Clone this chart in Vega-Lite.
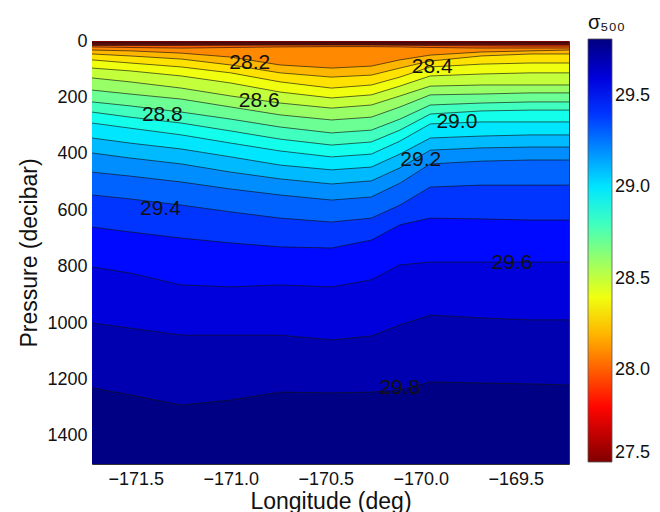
{
  "$schema": "https://vega.github.io/schema/vega-lite/v6.json",
  "autosize": {"type": "none"},
  "padding": {"left": 92, "top": 41, "right": 91, "bottom": 48},
  "width": 477,
  "height": 423,
  "background": "white",
  "config": {
    "font": "Liberation Sans",
    "view": {"stroke": "#333333", "strokeWidth": 1},
    "axis": {"grid": false, "ticks": false, "tickSize": 0, "domain": false, "labelFontSize": 18, "labelColor": "#111111", "titleFontSize": 23, "titleFontWeight": "normal", "titleColor": "#111111"}
  },
  "datasets": {
    "contours": [
      {"lon": -171.73, "lev": 27.5, "p": 0}, {"lon": -171.53, "lev": 27.5, "p": 0}, {"lon": -171.26, "lev": 27.5, "p": 0}, {"lon": -171.0, "lev": 27.5, "p": 0}, {"lon": -170.74, "lev": 27.5, "p": 0}, {"lon": -170.47, "lev": 27.5, "p": 0}, {"lon": -170.26, "lev": 27.5, "p": 0}, {"lon": -170.11, "lev": 27.5, "p": 0}, {"lon": -169.95, "lev": 27.5, "p": 0}, {"lon": -169.68, "lev": 27.5, "p": 0}, {"lon": -169.42, "lev": 27.5, "p": 0}, {"lon": -169.22, "lev": 27.5, "p": 0},
      {"lon": -171.73, "lev": 27.6, "p": 5}, {"lon": -171.53, "lev": 27.6, "p": 5}, {"lon": -171.26, "lev": 27.6, "p": 5}, {"lon": -171.0, "lev": 27.6, "p": 5}, {"lon": -170.74, "lev": 27.6, "p": 5}, {"lon": -170.47, "lev": 27.6, "p": 5}, {"lon": -170.26, "lev": 27.6, "p": 5}, {"lon": -170.11, "lev": 27.6, "p": 5}, {"lon": -169.95, "lev": 27.6, "p": 5}, {"lon": -169.68, "lev": 27.6, "p": 5}, {"lon": -169.42, "lev": 27.6, "p": 5}, {"lon": -169.22, "lev": 27.6, "p": 5},
      {"lon": -171.73, "lev": 27.7, "p": 8}, {"lon": -171.53, "lev": 27.7, "p": 8}, {"lon": -171.26, "lev": 27.7, "p": 8}, {"lon": -171.0, "lev": 27.7, "p": 8}, {"lon": -170.74, "lev": 27.7, "p": 8}, {"lon": -170.47, "lev": 27.7, "p": 8}, {"lon": -170.26, "lev": 27.7, "p": 8}, {"lon": -170.11, "lev": 27.7, "p": 8}, {"lon": -169.95, "lev": 27.7, "p": 8}, {"lon": -169.68, "lev": 27.7, "p": 8}, {"lon": -169.42, "lev": 27.7, "p": 8}, {"lon": -169.22, "lev": 27.7, "p": 8},
      {"lon": -171.73, "lev": 27.8, "p": 11}, {"lon": -171.53, "lev": 27.8, "p": 11}, {"lon": -171.26, "lev": 27.8, "p": 11}, {"lon": -171.0, "lev": 27.8, "p": 11}, {"lon": -170.74, "lev": 27.8, "p": 11}, {"lon": -170.47, "lev": 27.8, "p": 11}, {"lon": -170.26, "lev": 27.8, "p": 11}, {"lon": -170.11, "lev": 27.8, "p": 11}, {"lon": -169.95, "lev": 27.8, "p": 11}, {"lon": -169.68, "lev": 27.8, "p": 11}, {"lon": -169.42, "lev": 27.8, "p": 11}, {"lon": -169.22, "lev": 27.8, "p": 11},
      {"lon": -171.73, "lev": 27.9, "p": 13}, {"lon": -171.53, "lev": 27.9, "p": 13}, {"lon": -171.26, "lev": 27.9, "p": 13}, {"lon": -171.0, "lev": 27.9, "p": 13}, {"lon": -170.74, "lev": 27.9, "p": 13}, {"lon": -170.47, "lev": 27.9, "p": 13}, {"lon": -170.26, "lev": 27.9, "p": 13}, {"lon": -170.11, "lev": 27.9, "p": 13}, {"lon": -169.95, "lev": 27.9, "p": 13}, {"lon": -169.68, "lev": 27.9, "p": 13}, {"lon": -169.42, "lev": 27.9, "p": 13}, {"lon": -169.22, "lev": 27.9, "p": 13},
      {"lon": -171.73, "lev": 28.0, "p": 16}, {"lon": -171.53, "lev": 28.0, "p": 16}, {"lon": -171.26, "lev": 28.0, "p": 16}, {"lon": -171.0, "lev": 28.0, "p": 15}, {"lon": -170.74, "lev": 28.0, "p": 14}, {"lon": -170.47, "lev": 28.0, "p": 14}, {"lon": -170.26, "lev": 28.0, "p": 14}, {"lon": -170.11, "lev": 28.0, "p": 15}, {"lon": -169.95, "lev": 28.0, "p": 16}, {"lon": -169.68, "lev": 28.0, "p": 17}, {"lon": -169.42, "lev": 28.0, "p": 18}, {"lon": -169.22, "lev": 28.0, "p": 18},
      {"lon": -171.73, "lev": 28.1, "p": 21}, {"lon": -171.53, "lev": 28.1, "p": 23}, {"lon": -171.26, "lev": 28.1, "p": 25}, {"lon": -171.0, "lev": 28.1, "p": 23}, {"lon": -170.74, "lev": 28.1, "p": 21}, {"lon": -170.47, "lev": 28.1, "p": 20}, {"lon": -170.26, "lev": 28.1, "p": 20}, {"lon": -170.11, "lev": 28.1, "p": 21}, {"lon": -169.95, "lev": 28.1, "p": 23}, {"lon": -169.68, "lev": 28.1, "p": 25}, {"lon": -169.42, "lev": 28.1, "p": 25}, {"lon": -169.22, "lev": 28.1, "p": 25},
      {"lon": -171.73, "lev": 28.2, "p": 32}, {"lon": -171.53, "lev": 28.2, "p": 35}, {"lon": -171.26, "lev": 28.2, "p": 43}, {"lon": -171.0, "lev": 28.2, "p": 57}, {"lon": -170.74, "lev": 28.2, "p": 85}, {"lon": -170.47, "lev": 28.2, "p": 96}, {"lon": -170.26, "lev": 28.2, "p": 89}, {"lon": -170.11, "lev": 28.2, "p": 67}, {"lon": -169.95, "lev": 28.2, "p": 50}, {"lon": -169.68, "lev": 28.2, "p": 39}, {"lon": -169.42, "lev": 28.2, "p": 35}, {"lon": -169.22, "lev": 28.2, "p": 32},
      {"lon": -171.73, "lev": 28.3, "p": 46}, {"lon": -171.53, "lev": 28.3, "p": 53}, {"lon": -171.26, "lev": 28.3, "p": 64}, {"lon": -171.0, "lev": 28.3, "p": 85}, {"lon": -170.74, "lev": 28.3, "p": 113}, {"lon": -170.47, "lev": 28.3, "p": 128}, {"lon": -170.26, "lev": 28.3, "p": 121}, {"lon": -170.11, "lev": 28.3, "p": 96}, {"lon": -169.95, "lev": 28.3, "p": 71}, {"lon": -169.68, "lev": 28.3, "p": 53}, {"lon": -169.42, "lev": 28.3, "p": 46}, {"lon": -169.22, "lev": 28.3, "p": 46},
      {"lon": -171.73, "lev": 28.4, "p": 67}, {"lon": -171.53, "lev": 28.4, "p": 78}, {"lon": -171.26, "lev": 28.4, "p": 92}, {"lon": -171.0, "lev": 28.4, "p": 113}, {"lon": -170.74, "lev": 28.4, "p": 145}, {"lon": -170.47, "lev": 28.4, "p": 167}, {"lon": -170.26, "lev": 28.4, "p": 156}, {"lon": -170.11, "lev": 28.4, "p": 128}, {"lon": -169.95, "lev": 28.4, "p": 92}, {"lon": -169.68, "lev": 28.4, "p": 82}, {"lon": -169.42, "lev": 28.4, "p": 78}, {"lon": -169.22, "lev": 28.4, "p": 78},
      {"lon": -171.73, "lev": 28.5, "p": 96}, {"lon": -171.53, "lev": 28.5, "p": 106}, {"lon": -171.26, "lev": 28.5, "p": 124}, {"lon": -171.0, "lev": 28.5, "p": 149}, {"lon": -170.74, "lev": 28.5, "p": 181}, {"lon": -170.47, "lev": 28.5, "p": 202}, {"lon": -170.26, "lev": 28.5, "p": 191}, {"lon": -170.11, "lev": 28.5, "p": 160}, {"lon": -169.95, "lev": 28.5, "p": 124}, {"lon": -169.68, "lev": 28.5, "p": 117}, {"lon": -169.42, "lev": 28.5, "p": 113}, {"lon": -169.22, "lev": 28.5, "p": 113},
      {"lon": -171.73, "lev": 28.6, "p": 131}, {"lon": -171.53, "lev": 28.6, "p": 145}, {"lon": -171.26, "lev": 28.6, "p": 167}, {"lon": -171.0, "lev": 28.6, "p": 195}, {"lon": -170.74, "lev": 28.6, "p": 220}, {"lon": -170.47, "lev": 28.6, "p": 238}, {"lon": -170.26, "lev": 28.6, "p": 227}, {"lon": -170.11, "lev": 28.6, "p": 195}, {"lon": -169.95, "lev": 28.6, "p": 160}, {"lon": -169.68, "lev": 28.6, "p": 156}, {"lon": -169.42, "lev": 28.6, "p": 156}, {"lon": -169.22, "lev": 28.6, "p": 156},
      {"lon": -171.73, "lev": 28.7, "p": 174}, {"lon": -171.53, "lev": 28.7, "p": 188}, {"lon": -171.26, "lev": 28.7, "p": 206}, {"lon": -171.0, "lev": 28.7, "p": 234}, {"lon": -170.74, "lev": 28.7, "p": 262}, {"lon": -170.47, "lev": 28.7, "p": 280}, {"lon": -170.26, "lev": 28.7, "p": 270}, {"lon": -170.11, "lev": 28.7, "p": 234}, {"lon": -169.95, "lev": 28.7, "p": 191}, {"lon": -169.68, "lev": 28.7, "p": 188}, {"lon": -169.42, "lev": 28.7, "p": 184}, {"lon": -169.22, "lev": 28.7, "p": 184},
      {"lon": -171.73, "lev": 28.8, "p": 216}, {"lon": -171.53, "lev": 28.8, "p": 230}, {"lon": -171.26, "lev": 28.8, "p": 252}, {"lon": -171.0, "lev": 28.8, "p": 277}, {"lon": -170.74, "lev": 28.8, "p": 305}, {"lon": -170.47, "lev": 28.8, "p": 326}, {"lon": -170.26, "lev": 28.8, "p": 316}, {"lon": -170.11, "lev": 28.8, "p": 277}, {"lon": -169.95, "lev": 28.8, "p": 227}, {"lon": -169.68, "lev": 28.8, "p": 220}, {"lon": -169.42, "lev": 28.8, "p": 216}, {"lon": -169.22, "lev": 28.8, "p": 216},
      {"lon": -171.73, "lev": 28.9, "p": 252}, {"lon": -171.53, "lev": 28.9, "p": 270}, {"lon": -171.26, "lev": 28.9, "p": 291}, {"lon": -171.0, "lev": 28.9, "p": 319}, {"lon": -170.74, "lev": 28.9, "p": 348}, {"lon": -170.47, "lev": 28.9, "p": 369}, {"lon": -170.26, "lev": 28.9, "p": 358}, {"lon": -170.11, "lev": 28.9, "p": 316}, {"lon": -169.95, "lev": 28.9, "p": 259}, {"lon": -169.68, "lev": 28.9, "p": 248}, {"lon": -169.42, "lev": 28.9, "p": 245}, {"lon": -169.22, "lev": 28.9, "p": 245},
      {"lon": -171.73, "lev": 29.0, "p": 291}, {"lon": -171.53, "lev": 29.0, "p": 309}, {"lon": -171.26, "lev": 29.0, "p": 333}, {"lon": -171.0, "lev": 29.0, "p": 362}, {"lon": -170.74, "lev": 29.0, "p": 390}, {"lon": -170.47, "lev": 29.0, "p": 411}, {"lon": -170.26, "lev": 29.0, "p": 401}, {"lon": -170.11, "lev": 29.0, "p": 355}, {"lon": -169.95, "lev": 29.0, "p": 294}, {"lon": -169.68, "lev": 29.0, "p": 287}, {"lon": -169.42, "lev": 29.0, "p": 287}, {"lon": -169.22, "lev": 29.0, "p": 287},
      {"lon": -171.73, "lev": 29.1, "p": 344}, {"lon": -171.53, "lev": 29.1, "p": 362}, {"lon": -171.26, "lev": 29.1, "p": 383}, {"lon": -171.0, "lev": 29.1, "p": 411}, {"lon": -170.74, "lev": 29.1, "p": 440}, {"lon": -170.47, "lev": 29.1, "p": 457}, {"lon": -170.26, "lev": 29.1, "p": 447}, {"lon": -170.11, "lev": 29.1, "p": 401}, {"lon": -169.95, "lev": 29.1, "p": 344}, {"lon": -169.68, "lev": 29.1, "p": 337}, {"lon": -169.42, "lev": 29.1, "p": 333}, {"lon": -169.22, "lev": 29.1, "p": 333},
      {"lon": -171.73, "lev": 29.2, "p": 397}, {"lon": -171.53, "lev": 29.2, "p": 415}, {"lon": -171.26, "lev": 29.2, "p": 436}, {"lon": -171.0, "lev": 29.2, "p": 465}, {"lon": -170.74, "lev": 29.2, "p": 489}, {"lon": -170.47, "lev": 29.2, "p": 507}, {"lon": -170.26, "lev": 29.2, "p": 496}, {"lon": -170.11, "lev": 29.2, "p": 450}, {"lon": -169.95, "lev": 29.2, "p": 387}, {"lon": -169.68, "lev": 29.2, "p": 379}, {"lon": -169.42, "lev": 29.2, "p": 376}, {"lon": -169.22, "lev": 29.2, "p": 376},
      {"lon": -171.73, "lev": 29.3, "p": 465}, {"lon": -171.53, "lev": 29.3, "p": 479}, {"lon": -171.26, "lev": 29.3, "p": 500}, {"lon": -171.0, "lev": 29.3, "p": 525}, {"lon": -170.74, "lev": 29.3, "p": 546}, {"lon": -170.47, "lev": 29.3, "p": 564}, {"lon": -170.26, "lev": 29.3, "p": 553}, {"lon": -170.11, "lev": 29.3, "p": 504}, {"lon": -169.95, "lev": 29.3, "p": 436}, {"lon": -169.68, "lev": 29.3, "p": 426}, {"lon": -169.42, "lev": 29.3, "p": 422}, {"lon": -169.22, "lev": 29.3, "p": 422},
      {"lon": -171.73, "lev": 29.4, "p": 546}, {"lon": -171.53, "lev": 29.4, "p": 560}, {"lon": -171.26, "lev": 29.4, "p": 582}, {"lon": -171.0, "lev": 29.4, "p": 606}, {"lon": -170.74, "lev": 29.4, "p": 628}, {"lon": -170.47, "lev": 29.4, "p": 642}, {"lon": -170.26, "lev": 29.4, "p": 628}, {"lon": -170.11, "lev": 29.4, "p": 582}, {"lon": -169.95, "lev": 29.4, "p": 518}, {"lon": -169.68, "lev": 29.4, "p": 511}, {"lon": -169.42, "lev": 29.4, "p": 511}, {"lon": -169.22, "lev": 29.4, "p": 511},
      {"lon": -171.73, "lev": 29.5, "p": 660}, {"lon": -171.53, "lev": 29.5, "p": 677}, {"lon": -171.26, "lev": 29.5, "p": 699}, {"lon": -171.0, "lev": 29.5, "p": 716}, {"lon": -170.74, "lev": 29.5, "p": 730}, {"lon": -170.47, "lev": 29.5, "p": 734}, {"lon": -170.26, "lev": 29.5, "p": 706}, {"lon": -170.11, "lev": 29.5, "p": 652}, {"lon": -169.95, "lev": 29.5, "p": 628}, {"lon": -169.68, "lev": 29.5, "p": 631}, {"lon": -169.42, "lev": 29.5, "p": 635}, {"lon": -169.22, "lev": 29.5, "p": 635},
      {"lon": -171.73, "lev": 29.6, "p": 801}, {"lon": -171.53, "lev": 29.6, "p": 823}, {"lon": -171.26, "lev": 29.6, "p": 865}, {"lon": -171.0, "lev": 29.6, "p": 872}, {"lon": -170.74, "lev": 29.6, "p": 865}, {"lon": -170.47, "lev": 29.6, "p": 872}, {"lon": -170.26, "lev": 29.6, "p": 847}, {"lon": -170.11, "lev": 29.6, "p": 794}, {"lon": -169.95, "lev": 29.6, "p": 784}, {"lon": -169.68, "lev": 29.6, "p": 784}, {"lon": -169.42, "lev": 29.6, "p": 784}, {"lon": -169.22, "lev": 29.6, "p": 784},
      {"lon": -171.73, "lev": 29.7, "p": 1000}, {"lon": -171.53, "lev": 29.7, "p": 1018}, {"lon": -171.26, "lev": 29.7, "p": 1043}, {"lon": -171.0, "lev": 29.7, "p": 1043}, {"lon": -170.74, "lev": 29.7, "p": 1043}, {"lon": -170.47, "lev": 29.7, "p": 1060}, {"lon": -170.26, "lev": 29.7, "p": 1046}, {"lon": -170.11, "lev": 29.7, "p": 1007}, {"lon": -169.95, "lev": 29.7, "p": 972}, {"lon": -169.68, "lev": 29.7, "p": 982}, {"lon": -169.42, "lev": 29.7, "p": 989}, {"lon": -169.22, "lev": 29.7, "p": 989},
      {"lon": -171.73, "lev": 29.8, "p": 1230}, {"lon": -171.53, "lev": 29.8, "p": 1255}, {"lon": -171.26, "lev": 29.8, "p": 1291}, {"lon": -171.0, "lev": 29.8, "p": 1273}, {"lon": -170.74, "lev": 29.8, "p": 1245}, {"lon": -170.47, "lev": 29.8, "p": 1248}, {"lon": -170.26, "lev": 29.8, "p": 1245}, {"lon": -170.11, "lev": 29.8, "p": 1238}, {"lon": -169.95, "lev": 29.8, "p": 1209}, {"lon": -169.68, "lev": 29.8, "p": 1213}, {"lon": -169.42, "lev": 29.8, "p": 1216}, {"lon": -169.22, "lev": 29.8, "p": 1220}
    ],
    "labels": [
      {"lon": -170.90, "p": 78, "txt": "28.2"},
      {"lon": -169.94, "p": 92, "txt": "28.4"},
      {"lon": -170.85, "p": 213, "txt": "28.6"},
      {"lon": -171.36, "p": 262, "txt": "28.8"},
      {"lon": -169.81, "p": 287, "txt": "29.0"},
      {"lon": -170.00, "p": 422, "txt": "29.2"},
      {"lon": -171.37, "p": 596, "txt": "29.4"},
      {"lon": -169.52, "p": 787, "txt": "29.6"},
      {"lon": -170.11, "p": 1230, "txt": "29.8"}
    ]
  },
  "encoding": {
    "x": {"field": "lon", "type": "quantitative", "title": "Longitude (deg)",
          "scale": {"domain": [-171.73, -169.22], "nice": false, "zero": false},
          "axis": {"values": [-171.5, -171.0, -170.5, -170.0, -169.5], "format": ".1f", "labelPadding": 6, "titlePadding": 2}},
    "y": {"field": "p", "type": "quantitative", "title": "Pressure (decibar)",
          "scale": {"domain": [0, 1500], "reverse": true, "nice": false, "zero": false},
          "axis": {"values": [0, 200, 400, 600, 800, 1000, 1200, 1400], "format": "d", "labelPadding": 5, "titlePadding": 5}}
  },
  "layer": [
    {
      "data": {"name": "contours"},
      "mark": {"type": "area", "clip": true, "interpolate": "linear"},
      "encoding": {
        "y2": {"datum": 1500},
        "color": {"field": "lev", "type": "quantitative",
          "scale": {"domain": [27.5, 27.789, 28.366, 28.944, 29.521, 29.81], "range": ["#800000", "#ff0000", "#ffff00", "#00ffff", "#0000ff", "#000080"], "interpolate": "rgb"},
          "legend": {"orient": "none", "legendX": 496, "legendY": -28, "direction": "vertical", "title": "σ₅₀₀", "titleFontSize": 20, "titleFontWeight": "normal", "titleColor": "#111111", "titlePadding": 6, "values": [27.5, 28.0, 28.5, 29.0, 29.5], "format": ".1f", "labelFontSize": 18, "labelColor": "#111111", "labelOffset": 3, "gradientLength": 423, "gradientThickness": 24, "gradientStrokeColor": "#555555", "gradientStrokeWidth": 0.8}}
      }
    },
    {
      "data": {"name": "contours"},
      "transform": [{"filter": "datum.lev > 27.55"}],
      "mark": {"type": "line", "clip": true, "color": "#111111", "strokeWidth": 0.8, "opacity": 0.8},
      "encoding": {"detail": {"field": "lev", "type": "quantitative"}}
    },
    {
      "data": {"name": "labels"},
      "mark": {"type": "text", "fontSize": 21, "color": "#111111", "align": "center", "baseline": "middle"},
      "encoding": {"text": {"field": "txt", "type": "nominal"}}
    }
  ]
}
